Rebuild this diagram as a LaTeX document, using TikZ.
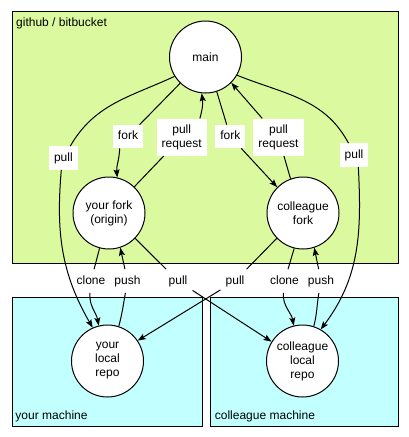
\documentclass[tikz,border=0pt]{standalone}
\usepackage{fontspec}
\setmainfont{Liberation Sans}
\usetikzlibrary{arrows.meta}
\definecolor{cloudgreen}{HTML}{DBFAA0}
\definecolor{machinecyan}{HTML}{C2FFFF}
\begin{document}
\begin{tikzpicture}[x=1pt,y=1pt,
  font=\fontsize{12}{14}\selectfont,
  region/.style={draw=black, line width=1pt},
  repo/.style={circle, draw=black, fill=white, line width=1pt, minimum size=72pt, inner sep=0pt, align=center},
  lbl/.style={fill=white, inner xsep=5pt, inner ysep=6pt, text height=8.8pt, text depth=2.5pt},
  lbltwo/.style={fill=white, inner xsep=5pt, inner ysep=6pt, align=center},
  edge/.style={draw=black, line width=1pt, -{Stealth[length=8pt,width=6pt,inset=1.5pt]}},
  title/.style={anchor=base west, inner sep=0pt}]
\useasboundingbox (0,0) rectangle (409,-437);
% regions
\draw[region, fill=cloudgreen] (12.3,-11) rectangle (398.7,-263.3);
\draw[region, fill=machinecyan] (12.3,-297.3) rectangle (202.7,-426);
\draw[region, fill=machinecyan] (210.3,-297.3) rectangle (398.7,-426);
\node[title] (tgit) at (16,-26.7) {github / bitbucket};
\node[title] (tyour) at (15.3,-419) {your machine};
\node[title] (tcol) at (214.7,-419) {colleague machine};
% repositories
\node[repo] (main) at (205.5,-57) {main};
\node[repo] (yfork) at (109,-213) {your fork\\(origin)};
\node[repo] (cfork) at (303,-213) {colleague\\fork};
\node[repo] (ylocal) at (107.5,-361) {your\\local\\repo};
\node[repo] (clocal) at (302.5,-361) {colleague\\local\\repo};
% labels
\node[lbl] (lforkL) at (128,-136.5) {fork};
\node[lbltwo] (lprL) at (181.7,-137.2) {pull\\request};
\node[lbl] (lforkR) at (230.3,-136.5) {fork};
\node[lbltwo] (lprR) at (278.5,-137.2) {pull\\request};
\node[lbl] (lpullL) at (63.4,-158) {pull};
\node[lbl] (lpullR) at (354,-155) {pull};
\node[lbl] (lcloneL) at (91,-281) {clone};
\node[lbl] (lpushL) at (127.5,-281) {push};
\node[lbl] (lpullX) at (178,-281) {pull};
\node[lbl] (lpullY) at (235,-281) {pull};
\node[lbl] (lcloneR) at (284.5,-281) {clone};
\node[lbl] (lpushR) at (321,-281) {push};
% connectors
\draw[edge] (main.226) -- (lforkL) (lforkL.-125) to[out=-92,in=95] (yfork.77);
\draw[edge] (yfork.46) -- (lprL) (lprL.46) to[out=74,in=-82] (main.264);
\draw[edge] (main.288) -- (lforkR) -- (cfork.135);
\draw[edge] (cfork.110) -- (lprR) -- (main.315);
\draw[edge] (main.212) to[out=205,in=60] (lpullL.60) (lpullL.-100) to[out=-95,in=120] (ylocal.114);
\draw[edge] (main.330) to[out=-22,in=118] (lpullR.115) (lpullR.-70) to[out=-87,in=53] (clocal.60);
\draw[edge] (yfork.255) -- (lcloneL) to[out=-95,in=100] (ylocal.104);
\draw[edge] (ylocal.72) to[out=75,in=-100] (lpushL) -- (yfork.288);
\draw[edge] (yfork.316) -- (lpullX) -- (clocal.148);
\draw[edge] (cfork.224) -- (lpullY) -- (ylocal.34);
\draw[edge] (cfork.256) -- (lcloneR) to[out=-95,in=100] (clocal.104);
\draw[edge] (clocal.72) to[out=75,in=-100] (lpushR) -- (cfork.288);
\end{tikzpicture}
\end{document}
